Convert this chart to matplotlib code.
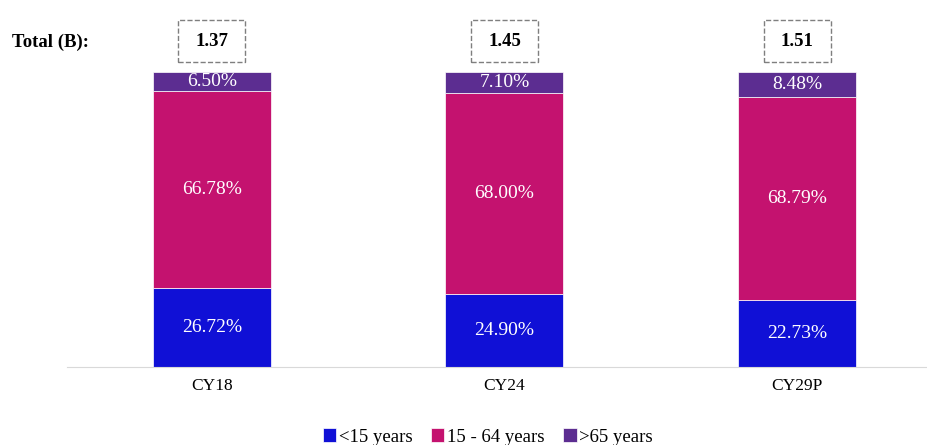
import numpy as np
import matplotlib.pyplot as plt
from matplotlib.patches import Rectangle

plt.rcParams['font.family'] = ['Liberation Serif', 'DejaVu Serif']

# data
years = ["CY18", "CY24", "CY29P"]
under15 = [26.72, 24.90, 22.73]
mid = [66.78, 68.00, 68.79]
over65 = [6.50, 7.10, 8.48]
totals = ["1.37", "1.45", "1.51"]
series_names = ["<15 years", "15 - 64 years", ">65 years"]
colors = ["#1010D6", "#C4126F", "#5C2D91"]

fig = plt.figure(figsize=(9.27, 4.45), dpi=100)
ax = fig.add_axes([67 / 927, 78 / 445, 860 / 927, 295 / 445])

x = np.arange(len(years))
w = 0.403
bottom = np.zeros(len(years))
for vals, c, name in zip([under15, mid, over65], colors, series_names):
    vals = np.array(vals)
    ax.bar(x, vals, w, bottom=bottom, color=c, label=name, edgecolor='white', linewidth=0.5)
    for xi, b, v in zip(x, bottom, vals):
        ax.text(xi, b + v / 2, f"{v:.2f}%", ha='center', va='center', color='white', fontsize=14)
    bottom += vals

ax.set_xlim(-0.495, 2.444)
ax.set_ylim(0, 100)
ax.set_yticks([])
ax.set_xticks(x)
ax.set_xticklabels(years, fontsize=12.5)
ax.tick_params(axis='x', length=0, pad=8)
for s in ['top', 'right', 'left']:
    ax.spines[s].set_visible(False)
ax.spines['bottom'].set_color('#d9d9d9')

# totals in dashed boxes
bw, bh = 0.229, 14.2
for xi, t in zip(x, totals):
    ax.add_patch(Rectangle((xi - bw / 2, 110.5 - bh / 2), bw, bh, fill=False,
                           ec='#7f7f7f', ls='--', lw=1, clip_on=False))
    ax.text(xi, 110.5, t, ha='center', va='center', fontsize=13.5, fontweight='bold')
fig.text(12 / 927, 1 - 42 / 445, "Total (B):", ha='left', va='center', fontsize=13.5, fontweight='bold')

fig.legend(loc='center', bbox_to_anchor=(488 / 927, 1 - 437 / 445), ncol=3, frameon=False,
           fontsize=13.5, handlelength=0.7, handleheight=0.7, handletextpad=0.15, columnspacing=1.0)

fig.savefig("out.png", dpi=100)
